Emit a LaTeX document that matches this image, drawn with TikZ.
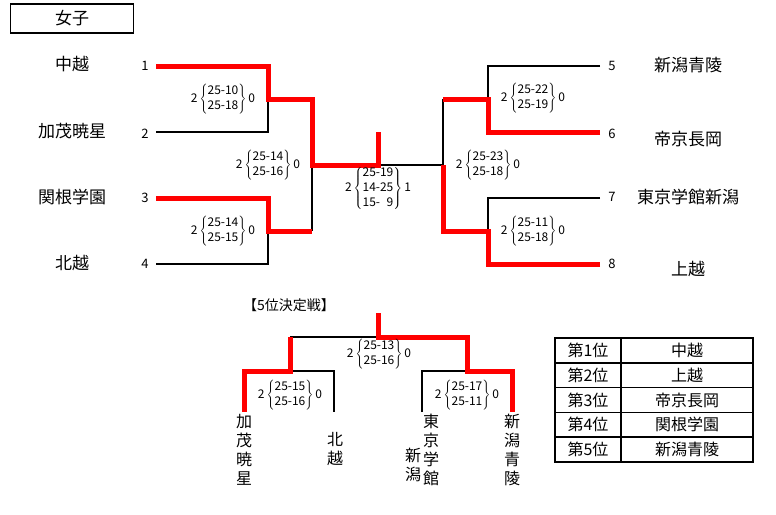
\documentclass[tikz,border=0pt]{standalone}
\usepackage{fontspec}
\setmainfont{Noto Sans CJK JP}
\usetikzlibrary{arrows.meta}

\tikzset{
  win/.style={red, line width=5pt},
  lose/.style={black, line width=1.3pt},
  team/.style={font=\fontsize{17}{20}\selectfont},
  seed/.style={font=\fontsize{13}{15}\selectfont},
  res/.style={font=\fontsize{12}{15}\selectfont, inner sep=0pt},
  vteam/.style={font=\fontsize{16}{19}\selectfont, align=center, inner sep=0pt},
  cell/.style={draw, line width=1.5pt, minimum height=24.8pt, inner sep=0pt, font=\fontsize{16}{18}\selectfont},
}
\newcommand{\sets}[3]{#1\,$\left\{\begin{tabular}{@{}r@{}}#2\end{tabular}\right\}$\,#3}

\begin{document}
\begin{tikzpicture}[x=1pt, y=-1pt]
\useasboundingbox (0,0) rectangle (776,514);
\begin{scope}
    \node[draw, line width=1.5pt, minimum width=123pt, minimum height=29pt, team] (title) at (72,18.5) {女子};

    % left half
    \node[team] (t1) at (72,64) {中越};
    \node[team] (t2) at (72,131) {加茂暁星};
    \node[team] (t3) at (72,197) {関根学園};
    \node[team] (t4) at (72,263) {北越};
    \node[seed] (n1) at (145,66) {1};
    \node[seed] (n2) at (145,134) {2};
    \node[seed] (n3) at (145,198) {3};
    \node[seed] (n4) at (145,264) {4};

    \coordinate (a1) at (156,66);
    \coordinate (a2) at (156,132);
    \coordinate (a3) at (156,198);
    \coordinate (a4) at (156,264);
    \coordinate (b1) at (268,66);
    \coordinate (b2) at (268,132);
    \coordinate (b3) at (268,198);
    \coordinate (b4) at (268,264);
    \coordinate (b12) at (268,99);
    \coordinate (b34) at (268,231);
    \coordinate (c12) at (312,99);
    \coordinate (c34) at (312,231);
    \coordinate (cl) at (312,165);
    \coordinate (fin) at (378,165);
    \coordinate (top) at (378,132);
    \coordinate (cr) at (443,165);

    % right half
    \node[team] (t5) at (688,65) {新潟青陵};
    \node[team] (t6) at (688,139) {帝京長岡};
    \node[team] (t7) at (688,197) {東京学館新潟};
    \node[team] (t8) at (688,269) {上越};
    \node[seed] (n5) at (612,66) {5};
    \node[seed] (n6) at (612,134) {6};
    \node[seed] (n7) at (612,197) {7};
    \node[seed] (n8) at (612,264) {8};

    \coordinate (a5) at (600,66);
    \coordinate (a6) at (600,132);
    \coordinate (a7) at (600,198);
    \coordinate (a8) at (600,264);
    \coordinate (b5) at (488,66);
    \coordinate (b6) at (488,132);
    \coordinate (b7) at (488,198);
    \coordinate (b8) at (488,264);
    \coordinate (b56) at (488,99);
    \coordinate (b78) at (488,231);
    \coordinate (c56) at (443,99);
    \coordinate (c78) at (443,231);

    \draw[lose] (a2) -- (b2) -- (b12);
    \draw[lose] (a4) -- (b4) -- (b34);
    \draw[lose] (cl) -- (c34);
    \draw[lose] (fin) -- (cr);
    \draw[lose] (c56) -- (cr);
    \draw[lose] (a5) -- (b5) -- (b56);
    \draw[lose] (a7) -- (b7) -- (b78);
    \draw[win] (a1) -- (b1) -- (b12) -- (c12) -- (cl) -- (fin) -- (top);
    \draw[win] (a3) -- (b3) -- (b34) -- (c34);
    \draw[win] (a6) -- (b6) -- (b56) -- (c56);
    \draw[win] (a8) -- (b8) -- (b78) -- (c78) -- (cr);

    \node[res] (s12) at (223,99) {\sets{2}{25-10\\25-18}{0}};
    \node[res] (s34) at (223,231) {\sets{2}{25-14\\25-15}{0}};
    \node[res] (sl) at (268,165) {\sets{2}{25-14\\25-16}{0}};
    \node[res] (sf) at (378,188) {\sets{2}{25-19\\14-25\\15-\hphantom{0}9}{1}};
    \node[res] (s56) at (533,98) {\sets{2}{25-22\\25-19}{0}};
    \node[res] (s78) at (533,231) {\sets{2}{25-11\\25-18}{0}};
    \node[res] (sr) at (488,165) {\sets{2}{25-23\\25-18}{0}};

    % 5th place
    \node[font=\fontsize{14}{16}\selectfont] (p5) at (289,305) {【5位決定戦】};
    \coordinate (d0) at (378,313);
    \coordinate (d) at (378,337);
    \coordinate (dl) at (290,337);
    \coordinate (dr) at (467,337);
    \coordinate (el) at (290,371);
    \coordinate (er) at (467,371);
    \coordinate (e1) at (244,371);
    \coordinate (e2) at (334,371);
    \coordinate (e3) at (422,371);
    \coordinate (e4) at (512,371);
    \coordinate (g1) at (244,412);
    \coordinate (g2) at (334,412);
    \coordinate (g3) at (422,412);
    \coordinate (g4) at (512,412);

    \draw[lose] (d) -- (dl);
    \draw[lose] (el) -- (e2) -- (g2);
    \draw[lose] (g3) -- (e3) -- (er);
    \draw[win] (d0) -- (d) -- (dr) -- (er) -- (e4) -- (g4);
    \draw[win] (dl) -- (el) -- (e1) -- (g1);

    \node[res] (u0) at (379,354) {\sets{2}{25-13\\25-16}{0}};
    \node[res] (ul) at (290,395) {\sets{2}{25-15\\25-16}{0}};
    \node[res] (ur) at (467,395) {\sets{2}{25-17\\25-11}{0}};

    \node[vteam] (v1) at (244,450) {加\\茂\\暁\\星};
    \node[vteam] (v2) at (335,449) {北\\越};
    \node[vteam] (v3) at (431,450) {東\\京\\学\\館};
    \node[vteam] (v3b) at (413,465) {新\\潟};
    \node[vteam] (v4) at (512,450) {新\\潟\\青\\陵};

    % ranking
    \node[cell, minimum width=66pt] (r1) at (588,350.4) {第1位};
    \node[cell, minimum width=132pt] (w1) at (687,350.4) {中越};
    \node[cell, minimum width=66pt] (r2) at (588,375.2) {第2位};
    \node[cell, minimum width=132pt] (w2) at (687,375.2) {上越};
    \node[cell, minimum width=66pt] (r3) at (588,400) {第3位};
    \node[cell, minimum width=132pt] (w3) at (687,400) {帝京長岡};
    \node[cell, minimum width=66pt] (r4) at (588,424.8) {第4位};
    \node[cell, minimum width=132pt] (w4) at (687,424.8) {関根学園};
    \node[cell, minimum width=66pt] (r5) at (588,449.6) {第5位};
    \node[cell, minimum width=132pt] (w5) at (687,449.6) {新潟青陵};
\end{scope}
\end{tikzpicture}
\end{document}
